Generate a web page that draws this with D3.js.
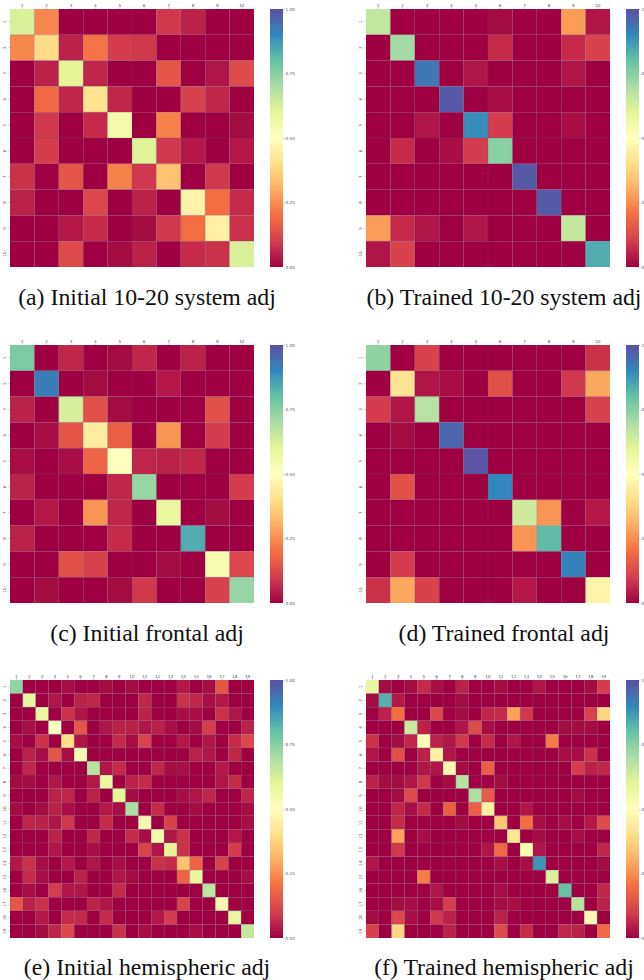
<!DOCTYPE html>
<html>
<head>
<meta charset="utf-8">
<style>
  html, body { margin: 0; padding: 0; background: #fff; }
  svg { display: block; }
</style>
<script src="https://cdn.jsdelivr.net/npm/d3@7"></script>
</head>
<body>
<div id="container"></div>
<script>
// Adjacency values, row by row
const labels10 = d3.range(1, 11).map(String);
const labels19 = d3.range(1, 20).map(String);
const colorbarTicks = [0, 0.25, 0.5, 0.75, 1];

const captions = [
  "(a) Initial 10-20 system adj",
  "(b) Trained 10-20 system adj",
  "(c) Initial frontal adj",
  "(d) Trained frontal adj",
  "(e) Initial hemispheric adj",
  "(f) Trained hemispheric adj"
];

const initial1020 = [
  [.62,.24,0,0,0,0,.09,.05,0,0],
  [.24,.39,.05,.21,.10,.09,0,0,0,0],
  [0,.05,.60,.06,0,0,.15,0,.03,.13],
  [0,.19,.06,.41,.06,0,0,.11,.06,0],
  [0,.09,0,.07,.55,0,.23,0,0,.01],
  [0,.10,0,0,0,.61,.09,.04,0,.04],
  [.08,0,.15,0,.23,.09,.34,0,.09,0],
  [.05,0,0,.12,0,.05,0,.46,.20,.07],
  [0,0,.04,.07,0,.01,.09,.20,.45,.08],
  [0,0,.13,0,.01,.05,0,.07,.08,.62]
];

const trained1020 = [
  [.66,0,0,0,0,.01,0,0,.27,.03],
  [0,.71,0,0,0,.07,0,0,.07,.11],
  [0,0,.93,0,.03,0,0,0,.03,0],
  [0,0,0,.98,0,.02,0,0,0,0],
  [0,0,.03,0,.89,.10,0,0,.02,0],
  [0,.07,0,.02,.10,.75,0,0,0,0],
  [0,0,0,0,0,0,.98,0,0,0],
  [0,0,0,0,0,0,0,.98,0,0],
  [.27,.07,.03,0,.03,0,0,0,.66,0],
  [.03,.11,0,0,0,0,0,0,0,.84]
];

const initialFrontal = [
  [.77,0,.06,0,.01,.06,0,.05,0,0],
  [0,.92,0,.01,0,0,.04,0,0,0],
  [.05,0,.63,.14,.01,0,0,0,.14,0],
  [0,.02,.15,.44,.17,0,.26,0,.10,0],
  [.02,0,.02,.18,.50,.06,.05,.06,0,0],
  [.05,0,0,0,.06,.73,0,0,0,.10],
  [0,.04,0,.26,.06,0,.58,0,.01,0],
  [.05,0,0,0,.07,0,0,.84,0,0],
  [0,0,.14,.11,0,0,.01,0,.53,.12],
  [0,.01,0,0,.01,.09,0,0,.11,.73]
];

const trainedFrontal = [
  [.74,0,.11,0,0,0,0,0,0,.08],
  [0,.41,.03,.02,0,.14,0,0,.09,.29],
  [.10,.03,.68,0,0,0,0,0,0,.11],
  [0,.01,0,.96,0,0,0,0,0,0],
  [0,0,0,0,.99,0,0,0,0,0],
  [0,.14,0,0,0,.90,0,0,0,0],
  [0,0,0,0,0,0,.64,.26,0,.04],
  [0,0,0,0,0,0,.26,.81,0,0],
  [0,.10,0,0,0,0,0,0,.91,0],
  [.08,.29,.11,0,0,0,.04,0,0,.46]
];

const initialHemi = [
  [.74,0,0,0,.02,0,0,.01,0,.01,0,0,0,.04,0,.01,.15,0,0],
  [0,.58,0,.03,0,.05,.06,0,0,0,.06,0,0,.08,.06,.02,.04,0,0],
  [0,0,.58,0,.08,.03,0,0,0,0,.05,0,0,.02,.02,0,.08,.03,0],
  [0,.02,0,.50,0,.15,0,.03,.05,.05,.03,.05,.02,0,.01,.10,0,0,.05],
  [.02,0,.08,0,.40,.03,0,0,.07,.02,.11,0,0,.04,0,.03,0,.07,.12],
  [0,.05,.02,.15,.02,.53,0,0,0,0,0,0,0,0,.05,.03,0,.06,0],
  [0,.06,0,0,0,0,.68,.03,.07,0,0,.06,.01,.02,0,0,.04,0,0],
  [.01,.01,0,.03,0,0,.04,.58,0,.05,.07,0,0,0,0,0,.03,.07,0],
  [0,0,0,.05,.06,0,.05,0,.60,.01,0,0,0,.02,.03,.06,0,0,.06],
  [.01,0,.01,.05,.02,0,0,.04,.02,.70,0,.07,0,0,.01,0,0,0,.01],
  [0,.06,.05,.03,.09,0,0,.07,0,0,.47,0,.11,0,0,0,0,0,.02],
  [0,0,0,.05,0,0,.06,0,0,.07,.02,.55,.03,.08,0,0,0,.04,0],
  [0,0,0,.03,0,0,.02,0,0,0,.11,.03,.60,.08,0,0,0,.10,0],
  [.04,.08,.02,0,.04,0,.03,0,.02,0,0,.08,.07,.34,.18,0,.11,0,0],
  [0,.07,.02,0,0,.05,0,0,.03,.01,0,0,0,.18,.59,0,0,0,.02],
  [0,.02,0,.10,.03,.03,0,0,.07,0,0,0,0,0,0,.67,0,0,0],
  [.15,.05,.08,0,0,0,.05,.03,0,0,0,0,0,.11,0,0,.47,0,0],
  [0,0,.04,0,.07,.07,0,.07,0,0,0,.04,.10,0,0,0,0,.58,0],
  [0,0,.01,.06,.12,0,0,0,.08,0,.02,0,0,0,.02,0,0,0,.66]
];

const trainedHemi = [
  [.58,.01,0,.01,.07,.02,0,.05,0,0,.01,0,0,.03,0,0,0,.01,.10],
  [.01,.83,.04,0,0,0,0,.01,0,0,0,0,0,0,0,0,0,0,0],
  [0,.05,.20,0,0,.12,0,.01,0,.06,.07,.28,.09,0,0,0,0,.11,.38],
  [0,0,0,.64,.05,0,0,.03,.13,.02,0,0,0,0,0,.01,.01,.01,0],
  [.08,0,.01,.06,.52,.05,.03,.09,0,.07,0,.03,0,0,.22,0,0,0,0],
  [.03,0,.14,0,.05,.45,.03,0,0,0,0,0,0,0,0,.02,.02,.08,0],
  [0,0,0,0,.03,.03,.47,.01,0,.17,0,0,0,0,0,0,.10,.05,.06],
  [.05,.01,.01,.03,.09,0,.01,.68,0,0,.01,0,0,0,0,0,0,0,0],
  [0,0,.01,.13,0,0,0,0,.69,.16,0,0,0,0,0,0,.01,0,0],
  [0,0,.06,.02,.07,0,.17,0,.17,.45,0,0,.03,0,0,0,0,0,0],
  [0,0,.07,0,0,0,0,.01,0,0,.35,0,.20,.02,0,.02,0,.04,.13],
  [0,0,.28,0,.02,0,0,0,0,0,0,.42,0,.01,0,0,.02,0,0],
  [0,0,.09,0,0,0,0,0,0,.03,.19,0,.53,.03,0,0,0,0,.06],
  [.03,0,0,0,0,0,0,0,0,0,.02,0,.02,.88,0,0,0,0,.01],
  [0,0,0,0,.22,0,0,0,0,0,0,0,0,0,.62,0,0,0,0],
  [0,0,0,0,0,.03,0,0,0,0,.02,0,0,0,0,.80,0,0,.06],
  [0,0,.01,.02,0,.02,.10,0,0,0,.01,.02,0,0,0,0,.68,0,.05],
  [.01,0,.12,.02,0,.09,.05,0,0,0,.05,0,0,0,0,0,0,.48,0],
  [.11,0,.38,0,0,0,.05,0,0,0,.13,0,.07,0,0,.06,.05,0,.19]
];

const matrices = [initial1020, trained1020, initialFrontal, trainedFrontal, initialHemi, trainedHemi];

const width = 644;
const height = 980;
const mapSize = 244;
const mapHeight = 258;

// matplotlib's Spectral is piecewise linear between the 11 brewer colours
const stops = d3.schemeSpectral[11];
const color = d3.scaleLinear()
  .domain(stops.map((c, i) => i / 10))
  .range(stops)
  .interpolate(d3.interpolateRgb);

const svg = d3.create("svg")
  .attr("width", width)
  .attr("height", height)
  .attr("viewBox", [0, 0, width, height]);

const defs = svg.append("defs");
const grad = defs.append("linearGradient")
  .attr("id", "cbar")
  .attr("x1", 0).attr("y1", 1)
  .attr("x2", 0).attr("y2", 0);
stops.forEach((c, i) => {
  grad.append("stop").attr("offset", i / 10).attr("stop-color", c);
});
// the reference is a downsampled screenshot, a small blur gets the same softness
defs.append("filter").attr("id", "soft")
  .attr("x", "-5%").attr("y", "-5%").attr("width", "110%").attr("height", "110%")
  .append("feGaussianBlur").attr("stdDeviation", 0.45);

const colX = [10, 366];
const rowY = [9, 345, 680];
const captionY = [305, 641, 975];
const captionX = [147, 504];

matrices.forEach((matrix, idx) => {
  const col = idx % 2;
  const row = Math.floor(idx / 2);
  const x0 = colX[col];
  const y0 = rowY[row];
  const names = matrix.length === 10 ? labels10 : labels19;

  const x = d3.scaleBand().domain(names).range([0, mapSize]);
  const y = d3.scaleBand().domain(names).range([0, mapHeight]);

  const g = svg.append("g")
    .attr("transform", `translate(${x0},${y0})`);

  const cells = g.append("g").attr("filter", "url(#soft)");
  matrix.forEach((rowValues, r) => {
    cells.selectAll(null)
      .data(rowValues)
      .join("rect")
      .attr("x", (d, c) => x(names[c]))
      .attr("y", y(names[r]))
      .attr("width", x.bandwidth())
      .attr("height", y.bandwidth())
      .attr("fill", d => color(d));
  });

  // thin lines between the cells, same muted tone as the seaborn linewidths
  const lines = cells.append("g")
    .attr("stroke", "#50506a")
    .attr("stroke-opacity", 0.38)
    .attr("stroke-width", 0.6);
  lines.selectAll("line.v")
    .data(names.slice(1))
    .join("line")
    .attr("class", "v")
    .attr("x1", d => x(d)).attr("x2", d => x(d))
    .attr("y1", 0).attr("y2", mapHeight);
  lines.selectAll("line.h")
    .data(names.slice(1))
    .join("line")
    .attr("class", "h")
    .attr("y1", d => y(d)).attr("y2", d => y(d))
    .attr("x1", 0).attr("x2", mapSize);

  const xAxis = g.append("g")
    .call(d3.axisTop(x).tickSize(1.5).tickPadding(1));
  const yAxis = g.append("g")
    .call(d3.axisLeft(y).tickSize(1.5).tickPadding(1));
  [xAxis, yAxis].forEach(a => {
    a.select(".domain").remove();
    a.selectAll("line").attr("stroke", "#999").attr("stroke-width", 0.5);
    a.selectAll("text")
      .attr("fill", "#555")
      .attr("font-family", "DejaVu Sans")
      .attr("font-size", 4.2);
  });
  yAxis.selectAll("text")
    .attr("text-anchor", "middle")
    .attr("dy", 0)
    .attr("transform", "translate(-4,0) rotate(-90)")
    .attr("x", 0);

  // Colorbar
  const cbar = g.append("g").attr("transform", `translate(${mapSize + 16},0)`);
  cbar.append("rect")
    .attr("width", 13)
    .attr("height", mapHeight)
    .attr("fill", "url(#cbar)")
    .attr("filter", "url(#soft)");
  const cScale = d3.scaleLinear().domain([0, 1]).range([mapHeight, 0]);
  const cAxis = cbar.append("g")
    .attr("transform", "translate(13,0)")
    .call(d3.axisRight(cScale)
      .tickValues(colorbarTicks)
      .tickFormat(d3.format(".2f"))
      .tickSize(1.5)
      .tickPadding(1));
  cAxis.select(".domain").remove();
  cAxis.selectAll("line").attr("stroke", "#999").attr("stroke-width", 0.5);
  cAxis.selectAll("text")
    .attr("fill", "#555")
    .attr("font-family", "DejaVu Sans")
    .attr("font-size", 4.2);

  svg.append("text")
    .attr("x", captionX[col])
    .attr("y", captionY[row])
    .attr("text-anchor", "middle")
    .attr("font-family", "Liberation Serif")
    .attr("font-size", 23.8)
    .attr("fill", "#111")
    .text(captions[idx]);
});

document.getElementById("container").append(svg.node());
</script>
</body>
</html>
